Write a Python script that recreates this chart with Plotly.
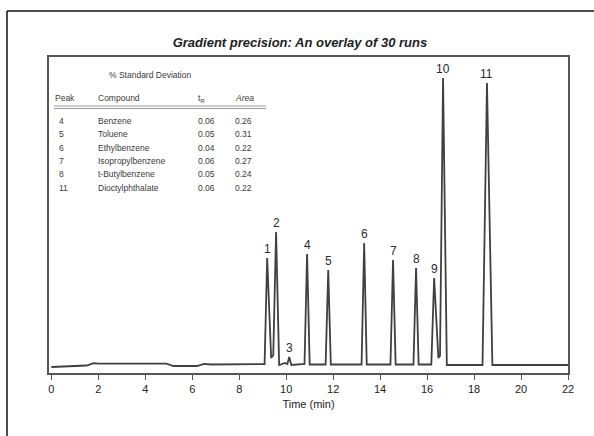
import plotly.graph_objects as go

# ---------------- data ----------------
# chromatogram trace (time in min, signal in arbitrary units, baseline ~0)
time_min = [0.0, 0.8, 1.5, 1.8, 2.0, 4.9, 5.2, 6.2, 6.5, 6.8, 8.95,
            9.08, 9.19, 9.36, 9.45, 9.57, 9.70, 9.95, 10.05, 10.13, 10.22, 10.40,
            10.78, 10.89, 11.00, 11.68, 11.79, 11.90,
            13.21, 13.32, 13.43, 14.44, 14.55, 14.66, 15.42, 15.53, 15.64,
            16.18, 16.30, 16.48, 16.55, 16.68, 16.84,
            18.36, 18.55, 18.78, 22.0]
signal = [-3, -2.5, -1.5, 0.8, 0.3, 0.3, -2, -2, 0.2, -0.5, 0,
          0, 106, 6, 9, 132, -1, 1, 0, 7, -1, -0.5,
          0, 110, -0.5, -0.5, 94, -0.5,
          -0.5, 121, -0.5, -0.5, 104, -0.5, -0.5, 96, -0.5,
          -0.5, 86, 6, 8, 286, -1,
          -1, 281, -1, -1]

peak_labels = ["1", "2", "3", "4", "5", "6", "7", "8", "9", "10", "11"]
peak_times = [9.19, 9.57, 10.13, 10.89, 11.79, 13.32, 14.55, 15.53, 16.30, 16.68, 18.55]
peak_heights = [106, 132, 7, 110, 94, 121, 104, 96, 86, 286, 281]

x_ticks = [0, 2, 4, 6, 8, 10, 12, 14, 16, 18, 20, 22]

table_peaks = ["4", "5", "6", "7", "8", "11"]
table_compounds = ["Benzene", "Toluene", "Ethylbenzene", "Isopropylbenzene",
                   "t-Butylbenzene", "Dioctylphthalate"]
table_tr = ["0.06", "0.05", "0.04", "0.06", "0.05", "0.06"]
table_area = ["0.26", "0.31", "0.22", "0.27", "0.24", "0.22"]

# ---------------- layout geometry (pixels) ----------------
W, H = 594, 436
PL, PR, PT, PB = 49, 568, 57, 373


def px(xp):
    return (xp - PL) / (PR - PL)


def py(yp):
    return (PB - yp) / (PB - PT)


FONT = "Liberation Sans, Arial, Helvetica, sans-serif"
LINE = "#404040"

fig = go.Figure()
fig.add_trace(go.Scatter(x=time_min, y=signal, mode="lines",
                         line=dict(color=LINE, width=1.8),
                         hoverinfo="skip", showlegend=False))

for lab, t, h in zip(peak_labels, peak_times, peak_heights):
    fig.add_annotation(x=t, y=h, text=lab, showarrow=False, xanchor="center",
                       yanchor="bottom", yshift=0,
                       font=dict(family=FONT, size=12, color="#2a2a2a"))

# table
tfont = dict(family=FONT, size=8.5, color="#3a3a3a")
fig.add_annotation(x=px(150), y=py(75), xref="paper", yref="paper",
                   text="% Standard Deviation", showarrow=False,
                   xanchor="center", yanchor="middle", font=tfont)
hdr_y = 98
for xp, txt in [(53, "Peak"), (96, "Compound"), (196, "t<sub>R</sub>"),
                (233, "<i>Area</i>")]:
    fig.add_annotation(x=px(xp), y=py(hdr_y), xref="paper", yref="paper",
                       text=txt, showarrow=False, xanchor="left",
                       yanchor="middle", font=tfont)
row_y0, row_dy = 121, 13.3
for i, (p, c, tr, ar) in enumerate(zip(table_peaks, table_compounds, table_tr, table_area)):
    yy = py(row_y0 + i * row_dy)
    for xp, txt in [(57, p), (96, c), (196, tr), (233, ar)]:
        fig.add_annotation(x=px(xp), y=yy, xref="paper", yref="paper",
                           text=txt, showarrow=False, xanchor="left",
                           yanchor="middle", font=tfont)

shapes = []
for yl in (106, 108.5):
    shapes.append(dict(type="line", xref="paper", yref="paper",
                       x0=px(54), x1=px(266), y0=py(yl), y1=py(yl),
                       line=dict(color="#9a9a9a", width=1)))
# outer frame (top and left edges of the page border)
shapes.append(dict(type="line", xref="paper", yref="paper",
                   x0=px(7), x1=px(600), y0=py(11), y1=py(11),
                   line=dict(color="#111", width=1.5)))
shapes.append(dict(type="line", xref="paper", yref="paper",
                   x0=px(7), x1=px(7), y0=py(11), y1=py(440),
                   line=dict(color="#111", width=1.5)))

fig.update_layout(
    width=W, height=H,
    margin=dict(l=PL, r=W - PR, t=PT, b=H - PB, pad=0),
    paper_bgcolor="white", plot_bgcolor="white",
    shapes=shapes,
    title=dict(text="<b><i>Gradient precision: An overlay of 30 runs</i></b>",
               x=0.505, xanchor="center", y=1 - 42 / H, yanchor="middle",
               font=dict(family=FONT, size=13, color="#222")),
    xaxis=dict(range=[-0.1, 22], tickvals=x_ticks, ticks="outside", ticklen=5,
               tickcolor="#555", showline=True, linecolor="#555", linewidth=1.5,
               mirror=True, showgrid=False, zeroline=False,
               tickfont=dict(family=FONT, size=11, color="#222"),
               title=dict(text="Time (min)", standoff=6,
                          font=dict(family=FONT, size=11, color="#222"))),
    yaxis=dict(range=[-9, 307], showticklabels=False, ticks="", showline=True,
               linecolor="#555", linewidth=1.5, mirror=True, showgrid=False,
               zeroline=False),
)

fig.write_html("out.html", config={"displayModeBar": False},
               post_script="document.body.style.margin='0';document.body.style.overflow='hidden';")
